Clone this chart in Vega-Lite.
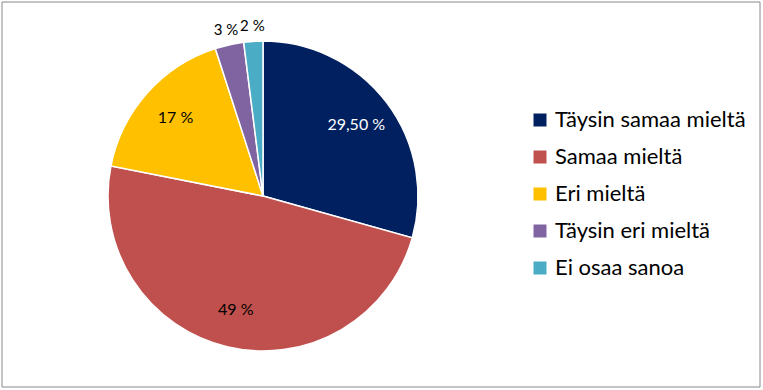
{
  "$schema": "https://vega.github.io/schema/vega-lite/v6.json",
  "width": 763,
  "height": 390,
  "autosize": {"type": "fit", "contains": "padding"},
  "padding": {"left": 1, "top": 1, "right": 2, "bottom": 2},
  "background": "white",
  "datasets": {
    "slices": [
      {"i": 1, "k": "Täysin samaa mieltä", "v": 29.5, "label": "29,50 %"},
      {"i": 2, "k": "Samaa mieltä", "v": 49, "label": "49 %"},
      {"i": 3, "k": "Eri mieltä", "v": 17, "label": "17 %"},
      {"i": 4, "k": "Täysin eri mieltä", "v": 3, "label": "3 %"},
      {"i": 5, "k": "Ei osaa sanoa", "v": 2, "label": "2 %"}
    ],
    "frame": [{"f": 1}]
  },
  "layer": [
    {
      "data": {"name": "frame"},
      "mark": {"type": "rect", "filled": false, "stroke": "#888888", "strokeWidth": 1},
      "encoding": {}
    },
    {
      "data": {"name": "slices"},
      "encoding": {
        "theta": {"field": "v", "type": "quantitative", "stack": true},
        "order": {"field": "i", "type": "quantitative"},
        "color": {
          "field": "k",
          "type": "nominal",
          "sort": null,
          "scale": {
            "domain": ["Täysin samaa mieltä", "Samaa mieltä", "Eri mieltä", "Täysin eri mieltä", "Ei osaa sanoa"],
            "range": ["#002060", "#C0504D", "#FFC000", "#8064A2", "#4BACC6"]
          },
          "legend": {
            "title": null,
            "orient": "none",
            "legendX": 527,
            "legendY": 107,
            "symbolType": "square",
            "symbolSize": 169,
            "symbolStrokeWidth": 0,
            "labelFont": "Lato",
            "labelFontSize": 22,
            "labelColor": "#000000",
            "labelOffset": 4,
            "rowPadding": 15,
            "labelLimit": 300
          }
        }
      },
      "layer": [
        {
          "mark": {"type": "arc", "x": 261, "y": 194, "outerRadius": 155, "stroke": "white", "strokeWidth": 1.5}
        },
        {
          "mark": {"type": "text", "x": 261, "y": 194, "radius": 117, "font": "Lato", "fontSize": 16},
          "encoding": {
            "text": {"condition": {"test": "datum.v >= 5", "field": "label"}, "value": ""},
            "fill": {"condition": {"test": "datum.i == 1", "value": "white"}, "value": "#000000"}
          }
        },
        {
          "mark": {"type": "text", "x": 261, "y": 194, "radius": 170, "font": "Lato", "fontSize": 15},
          "encoding": {
            "text": {"condition": {"test": "datum.v < 5", "field": "label"}, "value": ""},
            "fill": {"value": "#000000"}
          }
        }
      ]
    }
  ]
}
